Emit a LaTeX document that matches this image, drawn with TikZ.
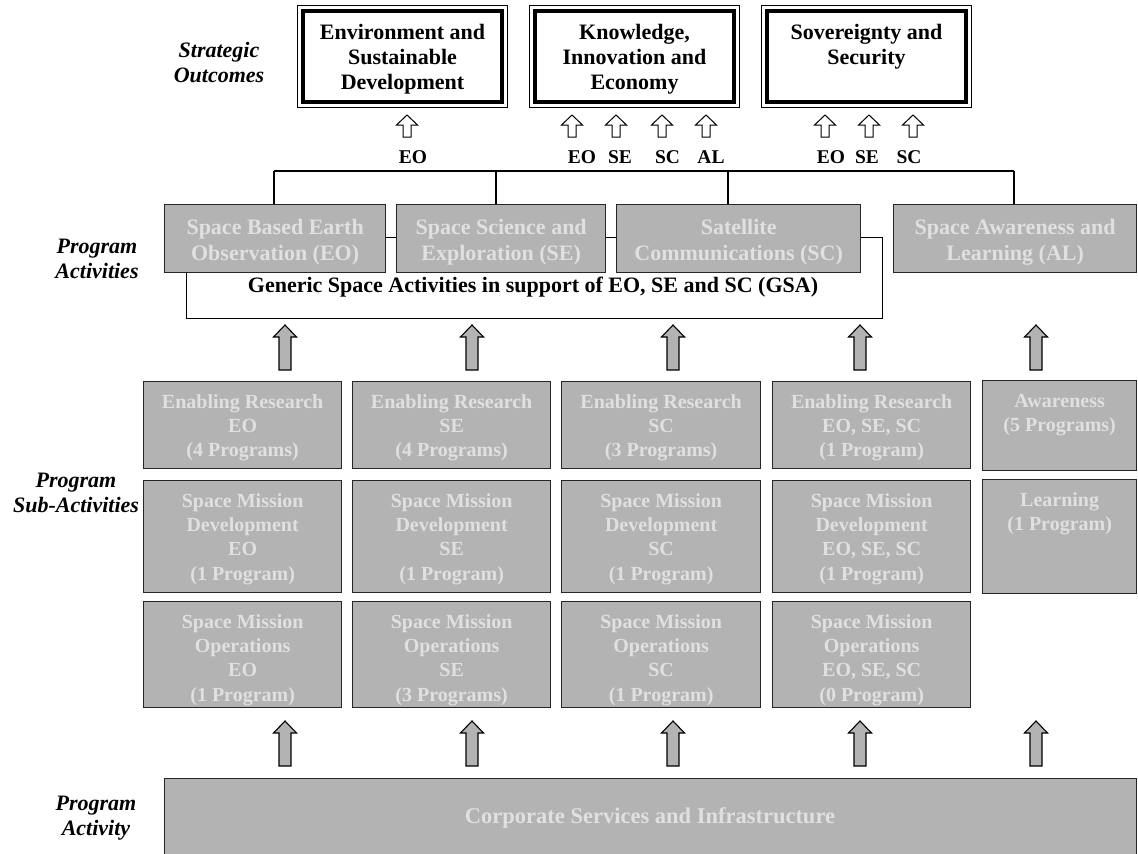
\documentclass[tikz,border=0pt]{standalone}
\usepackage{fontspec}
\setmainfont{Liberation Serif}
\definecolor{boxgray}{RGB}{179,179,179}
\definecolor{txtgray}{RGB}{224,224,224}
\tikzset{
  gbox/.style={rectangle, draw=black!85, line width=1.3pt, fill=boxgray, inner sep=0pt},
  gtext/.style={text=txtgray, font=\fontsize{20}{24.4}\selectfont\bfseries, align=center, inner sep=0pt},
  patext/.style={text=txtgray, font=\fontsize{22}{26}\selectfont\bfseries, align=center, inner sep=0pt},
  toptext/.style={text=black, font=\fontsize{22}{25}\selectfont\bfseries, align=center, inner sep=0pt},
  lbl/.style={text=black, font=\fontsize{19.5}{23}\selectfont\bfseries, inner sep=0pt},
  side/.style={text=black, font=\fontsize{22}{25}\selectfont\bfseries\itshape, align=center, inner sep=0pt},
  conn/.style={draw=black, line width=1.2pt},
  hollow/.style={draw=black, line width=1pt, fill=white, line join=miter},
  garrow/.style={draw=black, line width=1.1pt, fill=boxgray, line join=miter},
}
\newcommand\gb[6]{%
  \node[gbox, anchor=north west, minimum width=#4-#2, minimum height=#5-#3] (#1) at (#2,#3) {};
  \node[gtext, anchor=north] (#1t) at ([yshift=-9.8pt]#1.north) {\strut #6};
}
\newcommand\tb[4]{%
  \node[rectangle, draw=black, line width=1pt, inner sep=0pt, anchor=north west, minimum width=#3-#2, minimum height=102] (#1) at (#2,5) {};
  \draw[line width=4.5pt] ([shift={(6pt,-6pt)}]#1.north west) rectangle ([shift={(-6pt,6pt)}]#1.south east);
  \node[toptext, anchor=north] (#1t) at ([yshift=-17.2pt]#1.north) {\strut #4};
}
\newcommand\pa[6]{%
  \node[gbox, anchor=north west, minimum width=#4-#2, minimum height=#5-#3] (#1) at (#2,#3) {};
  \node[patext] (#1t) at ([yshift=-2.5pt]#1.center) {\strut #6};
}
\newcommand\ha[1]{%
  \draw[hollow] (#1-4,137) -- (#1-4,125) -- (#1-10.5,125) -- (#1,115) -- (#1+10.5,125) -- (#1+4,125) -- (#1+4,137) -- cycle;
}
\newcommand\ga[2]{%
  \draw[garrow] (#1-6,#2+45) -- (#1-6,#2+12) -- (#1-11.5,#2+12) -- (#1,#2) -- (#1+11.5,#2+12) -- (#1+6,#2+12) -- (#1+6,#2+45) -- cycle;
}
\begin{document}
\begin{tikzpicture}[x=1pt,y=-1pt]
\useasboundingbox (0,0) rectangle (1138,854);

% side labels
\node[side, anchor=north] (sso) at (219,40.2) {\strut Strategic\\Outcomes};
\node[side, anchor=north] (spa) at (97,236.2) {\strut Program\\Activities};
\node[side, anchor=north] (ssa) at (76,470.2) {\strut Program\\Sub-Activities};
\node[side, anchor=north] (spy) at (96,793.2) {\strut Program\\Activity};

% strategic outcomes
\tb{so1}{297}{507}{Environment and\\Sustainable\\Development}
\tb{so2}{529}{739}{Knowledge,\\Innovation and\\Economy}
\tb{so3}{761}{971}{Sovereignty and\\Security}

% hollow arrows and labels
\ha{407}
\ha{572}\ha{616}\ha{662}\ha{706}
\ha{825}\ha{869}\ha{913}
\node[lbl] (l1) at (413,157) {EO};
\node[lbl] (l2) at (582,157) {EO};
\node[lbl] (l3) at (620,157) {SE};
\node[lbl] (l4) at (667.5,157) {SC};
\node[lbl] (l5) at (711,157) {AL};
\node[lbl] (l6) at (831,157) {EO};
\node[lbl] (l7) at (867,157) {SE};
\node[lbl] (l8) at (909,157) {SC};

% GSA frame (behind)
\node[rectangle, draw=black, line width=1.2pt, inner sep=0pt, anchor=north west, minimum width=696, minimum height=81] (gsa) at (186,237) {};
\node[text=black, font=\fontsize{22}{25}\selectfont\bfseries, inner sep=0pt] (gsat) at (533,287) {Generic Space Activities in support of EO, SE and SC (GSA)};

% program activities
\pa{pa1}{164}{204}{385}{272}{Space Based Earth\\Observation (EO)}
\pa{pa2}{396}{204}{605}{272}{Space Science and\\Exploration (SE)}
\pa{pa3}{616}{204}{860}{272}{Satellite\\Communications (SC)}
\pa{pa4}{893}{204}{1136}{272}{Space Awareness and\\Learning (AL)}

% bus
\coordinate (b1) at (274,171);
\coordinate (b2) at (496,171);
\coordinate (b3) at (728,171);
\coordinate (b4) at (1014,171);
\draw[conn] (b1) -- (b4);
\draw[conn] (b1) -- (b1 |- pa1.north);
\draw[conn] (b2) -- (b2 |- pa2.north);
\draw[conn] (b3) -- (b3 |- pa3.north);
\draw[conn] (b4) -- (b4 |- pa4.north);

% arrows into program activities
\ga{285}{325}\ga{472}{325}\ga{673}{325}\ga{860}{325}\ga{1036}{325}

% sub-activities
\gb{r1c1}{143}{381}{341}{468}{Enabling Research\\EO\\(4 Programs)}
\gb{r1c2}{352}{381}{550}{468}{Enabling Research\\SE\\(4 Programs)}
\gb{r1c3}{561}{381}{760}{468}{Enabling Research\\SC\\(3 Programs)}
\gb{r1c4}{772}{381}{970}{468}{Enabling Research\\EO, SE, SC\\(1 Program)}
\gb{r1c5}{982}{380}{1136}{470}{Awareness\\(5 Programs)}

\gb{r2c1}{143}{480}{341}{592}{Space Mission\\Development\\EO\\(1 Program)}
\gb{r2c2}{352}{480}{550}{592}{Space Mission\\Development\\SE\\(1 Program)}
\gb{r2c3}{561}{480}{760}{592}{Space Mission\\Development\\SC\\(1 Program)}
\gb{r2c4}{772}{480}{970}{592}{Space Mission\\Development\\EO, SE, SC\\(1 Program)}
\gb{r2c5}{982}{479}{1136}{593}{Learning\\(1 Program)}

\gb{r3c1}{143}{601}{341}{707}{Space Mission\\Operations\\EO\\(1 Program)}
\gb{r3c2}{352}{601}{550}{707}{Space Mission\\Operations\\SE\\(3 Programs)}
\gb{r3c3}{561}{601}{760}{707}{Space Mission\\Operations\\SC\\(1 Program)}
\gb{r3c4}{772}{601}{970}{707}{Space Mission\\Operations\\EO, SE, SC\\(0 Program)}

% arrows from corporate
\ga{285}{721}\ga{472}{721}\ga{673}{721}\ga{860}{721}\ga{1036}{721}

% corporate
\node[gbox, anchor=north west, minimum width=972, minimum height=90] (corp) at (164,778) {};
\node[text=txtgray, font=\fontsize{22.5}{26}\selectfont\bfseries, inner sep=0pt] (corpt) at (650,818) {Corporate Services and Infrastructure};
\end{tikzpicture}
\end{document}
